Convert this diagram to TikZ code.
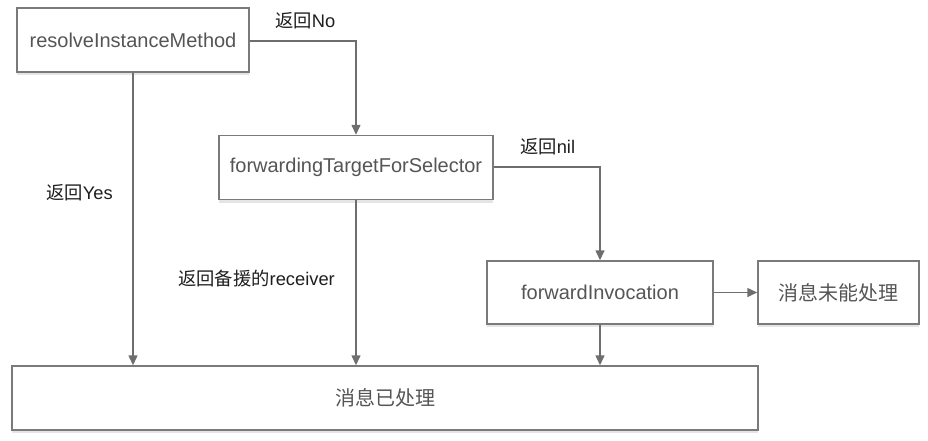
\documentclass[tikz,border=0pt]{standalone}
\usepackage{fontspec}
\setmainfont{Liberation Sans}
\newfontfamily\cjk{Noto Sans CJK SC}
\usetikzlibrary{arrows.meta,shadows,positioning}
\definecolor{boxline}{HTML}{7A7A7A}
\definecolor{conn}{HTML}{6E6E6E}
\definecolor{boxtext}{HTML}{555555}
\definecolor{labeltext}{HTML}{1E1E1E}
\tikzset{
  procbox/.style={draw=boxline, line width=1.5pt, fill=white, inner sep=0pt,
    text=boxtext, font=\fontsize{20}{24}\selectfont,
    drop shadow={shadow xshift=0pt, shadow yshift=-3pt, opacity=0.10, fill=black}},
  conn/.style={draw=conn, line width=1.5pt, -{Triangle[length=10pt,width=9pt]}},
  lbl/.style={text=labeltext, font=\fontsize{18.3}{22}\selectfont, inner sep=0pt}
}
\begin{document}
\begin{tikzpicture}[x=1pt,y=-1pt]
\useasboundingbox (0,0) rectangle (928,440);
% boxes
\node[procbox, minimum width=232pt, minimum height=64pt] (rim) at (133,40) {resolveInstanceMethod};
\node[procbox, minimum width=274pt, minimum height=64pt] (ftfs) at (356,167.5) {forwardingTargetForSelector};
\node[procbox, minimum width=226pt, minimum height=63pt] (fi) at (600,292.5) {forwardInvocation};
\node[procbox, minimum width=161pt, minimum height=63pt] (fail) at (838.5,292.5) {\cjk 消息未能处理};
\node[procbox, minimum width=746pt, minimum height=64pt] (done) at (385,398) {\cjk 消息已处理};
% helper coordinates
\coordinate (c1) at (356,41);
\coordinate (c2) at (600,167);
% connectors
\draw[conn] (rim.east |- c1) -- (c1) -- (ftfs.north);
\draw[conn] (rim.south -| 133,0) -- (done.north -| 133,0);
\draw[conn] (ftfs.east |- c2) -- (c2) -- (fi.north);
\draw[conn] (ftfs.south) -- (done.north -| ftfs.south);
\draw[conn] (fi.south) -- (done.north -| fi.south);
\draw[conn] (fi.east) -- (fail.west);
% labels
\node[lbl, anchor=west] (lno) at (275,21) {{\cjk 返回}No};
\node[lbl, anchor=west] (lyes) at (46,193) {{\cjk 返回}Yes};
\node[lbl, anchor=west] (lnil) at (520,147) {{\cjk 返回}nil};
\node[lbl, anchor=west] (lrec) at (178,279) {{\cjk 返回备援的}receiver};
\end{tikzpicture}
\end{document}
